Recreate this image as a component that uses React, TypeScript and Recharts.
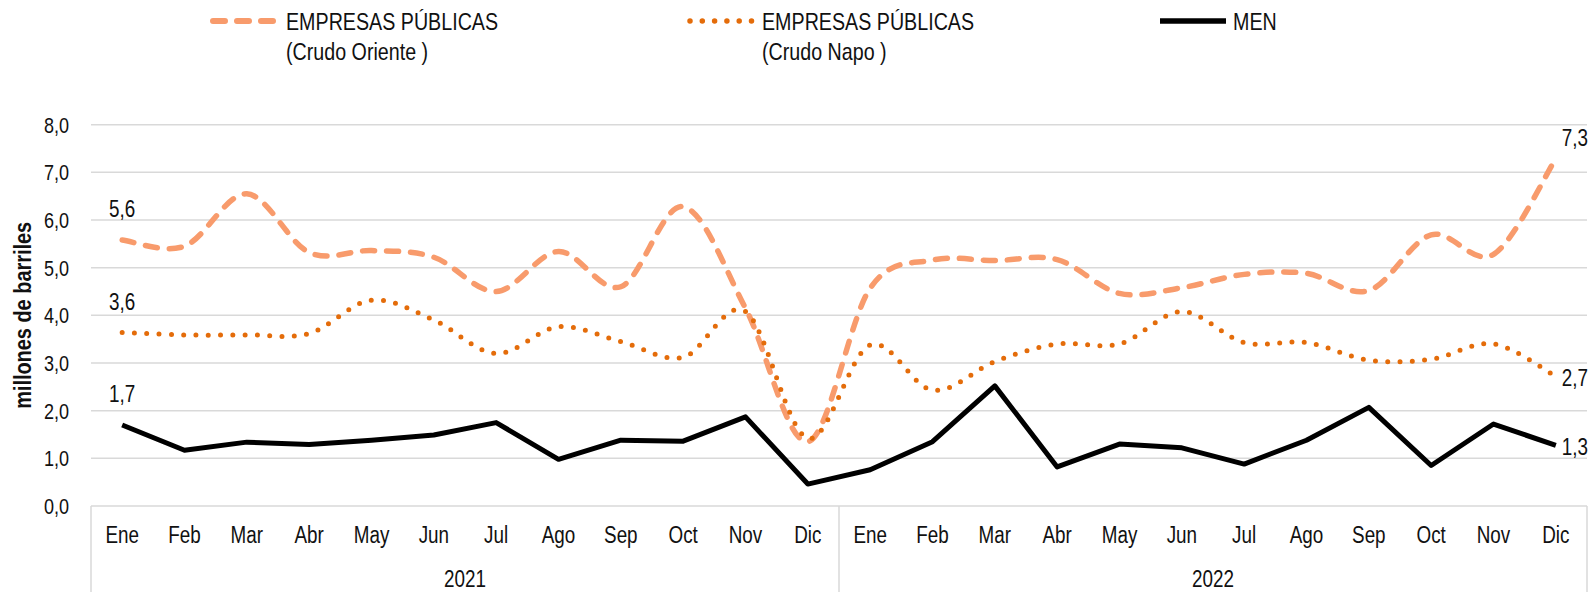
import React from 'react';
import { LineChart, Line, XAxis, YAxis, CartesianGrid, LabelList, Label } from 'recharts';

const months = ['Ene', 'Feb', 'Mar', 'Abr', 'May', 'Jun', 'Jul', 'Ago', 'Sep', 'Oct', 'Nov', 'Dic',
  'Ene', 'Feb', 'Mar', 'Abr', 'May', 'Jun', 'Jul', 'Ago', 'Sep', 'Oct', 'Nov', 'Dic'];
const years = ['2021', '2021', '2021', '2021', '2021', '2021', '2021', '2021', '2021', '2021', '2021', '2021',
  '2022', '2022', '2022', '2022', '2022', '2022', '2022', '2022', '2022', '2022', '2022', '2022'];
const oriente = [5.58, 5.45, 6.55, 5.32, 5.36, 5.22, 4.50, 5.34, 4.60, 6.28, 4.15, 1.35,
  4.57, 5.16, 5.15, 5.17, 4.46, 4.58, 4.86, 4.88, 4.52, 5.69, 5.28, 7.29];
const napo = [3.64, 3.59, 3.59, 3.62, 4.32, 3.90, 3.20, 3.76, 3.45, 3.12, 4.08, 1.42,
  3.38, 2.43, 3.03, 3.40, 3.40, 4.08, 3.43, 3.43, 3.06, 3.08, 3.40, 2.72];
const men = [1.70, 1.17, 1.34, 1.29, 1.38, 1.49, 1.75, 0.98, 1.38, 1.36, 1.87, 0.46,
  0.76, 1.35, 2.52, 0.82, 1.30, 1.22, 0.88, 1.38, 2.07, 0.85, 1.72, 1.27];
const yTicks = [0, 1, 2, 3, 4, 5, 6, 7, 8];

const FONT = '"Liberation Sans", Arial, sans-serif';
const FS = 23;
const SX = 0.82;
const TEXT = '#111111';
const GRID = '#d9d9d9';

const data = months.map((m, i) => ({
  key: `${years[i]}-${m}`,
  month: m,
  year: years[i],
  oriente: oriente[i],
  napo: napo[i],
  men: men[i],
}));

const fmt = (v: number) => v.toFixed(1).replace('.', ',');

// condensed text (Arial Narrow look)
const CText = ({ x, y, anchor = 'start', size = FS, bold = false, rotate = 0, sx = SX, children }: any) => (
  <text
    transform={`translate(${x} ${y}) rotate(${rotate}) scale(${sx} 1)`}
    x={0} y={0} dy="0.36em" textAnchor={anchor} fontSize={size} fontWeight={bold ? 'bold' : 'normal'}
    fontFamily={FONT} fill={TEXT}>
    {children}
  </text>
);

// Excel-like smoothing (Catmull-Rom through the points)
function excelSmooth(context: any) {
  let pts: number[][] = [];
  return {
    areaStart() {},
    areaEnd() {},
    lineStart() { pts = []; },
    point(x: number, y: number) { pts.push([+x, +y]); },
    lineEnd() {
      const n = pts.length;
      if (!n) return;
      context.moveTo(pts[0][0], pts[0][1]);
      for (let i = 0; i < n - 1; i++) {
        const p0 = pts[i - 1] || pts[i];
        const p1 = pts[i];
        const p2 = pts[i + 1];
        const p3 = pts[i + 2] || p2;
        context.bezierCurveTo(
          p1[0] + (p2[0] - p0[0]) / 6, p1[1] + (p2[1] - p0[1]) / 6,
          p2[0] - (p3[0] - p1[0]) / 6, p2[1] - (p3[1] - p1[1]) / 6,
          p2[0], p2[1]
        );
      }
    },
  };
}

const series = [
  { key: 'oriente', lines: ['EMPRESAS PÚBLICAS', '(Crudo Oriente )'], color: '#F89B6C', dash: '12 12', cap: 'round', width: 5.5, curve: excelSmooth, legendX: 210, textX: 286, lastAbove: true },
  { key: 'napo', lines: ['EMPRESAS PÚBLICAS', '(Crudo Napo )'], color: '#E46C0A', dash: '0 12.3', cap: 'round', width: 5, curve: excelSmooth, legendX: 687, textX: 762, lastAbove: false },
  { key: 'men', lines: ['MEN'], color: '#000000', dash: undefined, cap: 'butt', width: 5, curve: 'linear', legendX: 1160, textX: 1233, lastAbove: false },
];

const makeLabel = (lastAbove: boolean) => (props: any) => {
  const { x, y, value, index } = props;
  if (index === 0) {
    return <CText x={x} y={y - 31} anchor="middle">{fmt(value)}</CText>;
  }
  if (index === data.length - 1) {
    return <CText x={x + 6} y={lastAbove ? y - 21 : y + 1} anchor="start">{fmt(value)}</CText>;
  }
  return null;
};

const MonthTick = (props: any) => {
  const { x, y, payload, width } = props;
  const i = payload.index;
  const half = typeof payload.offset === 'number' && payload.offset > 0 ? payload.offset : width / data.length / 2;
  const d = data[i];
  return (
    <g>
      <CText x={x} y={y + 29} anchor="middle">{d.month}</CText>
      {i % 12 === 0 && <line x1={x - half} x2={x - half} y1={y} y2={y + 90} stroke={GRID} strokeWidth={1.5} />}
      {i === data.length - 1 && <line x1={x + half} x2={x + half} y1={y} y2={y + 90} stroke={GRID} strokeWidth={1.5} />}
      {i % 12 === 5 && <CText x={x + half} y={y + 73} anchor="middle">{d.year}</CText>}
    </g>
  );
};

const YTick = (props: any) => {
  const { x, y, payload } = props;
  return <CText x={x} y={y} anchor="end" size={22}>{fmt(payload.value)}</CText>;
};

const YTitle = (props: any) => {
  const vb = props.viewBox || { x: 0, y: 0, width: 91, height: 380 };
  return (
    <CText x={vb.x + 22} y={vb.y + vb.height / 2} anchor="middle" size={24} bold rotate={-90} sx={0.83}>
      millones de barriles
    </CText>
  );
};

const Legend = () => (
  <svg width={1591} height={80} style={{ position: 'absolute', left: 0, top: 0 }}>
    {series.map((s) => (
      <g key={s.key}>
        <line x1={s.legendX + (s.cap === 'round' ? 3 : 0)} x2={s.legendX + 66} y1={21} y2={21} stroke={s.color}
          strokeWidth={s.width + 0.5} strokeDasharray={s.dash} strokeLinecap={s.cap as any} />
        {s.lines.map((t, j) => (
          <CText key={j} x={s.textX} y={21 + j * 30} size={24}>{t}</CText>
        ))}
      </g>
    ))}
  </svg>
);

export default function App() {
  return (
    <div style={{ position: 'absolute', left: 0, top: 0, width: 1591, height: 592, background: '#fff' }}>
      <LineChart width={1591} height={592} data={data} margin={{ top: 124.7, right: 4, left: 0, bottom: 0 }}>
        <CartesianGrid vertical={false} stroke={GRID} strokeWidth={1.5} />
        <XAxis dataKey="key" scale="band" height={86} interval={0} axisLine={false} tickLine={false} tickSize={0} tickMargin={0} tick={<MonthTick />} />
        <YAxis domain={[0, 8]} ticks={yTicks} width={91} axisLine={false} tickLine={false} tickSize={0} tickMargin={22}
          tick={<YTick />} interval={0}>
          <Label content={<YTitle />} />
        </YAxis>
        {series.map((s) => (
          <Line key={s.key} dataKey={s.key} type={s.curve as any} stroke={s.color} strokeWidth={s.width}
            strokeDasharray={s.dash} strokeLinecap={s.cap as any} strokeLinejoin="round" dot={false} activeDot={false}
            isAnimationActive={false}>
            <LabelList dataKey={s.key} content={makeLabel(s.lastAbove)} />
          </Line>
        ))}
      </LineChart>
      <Legend />
    </div>
  );
}
